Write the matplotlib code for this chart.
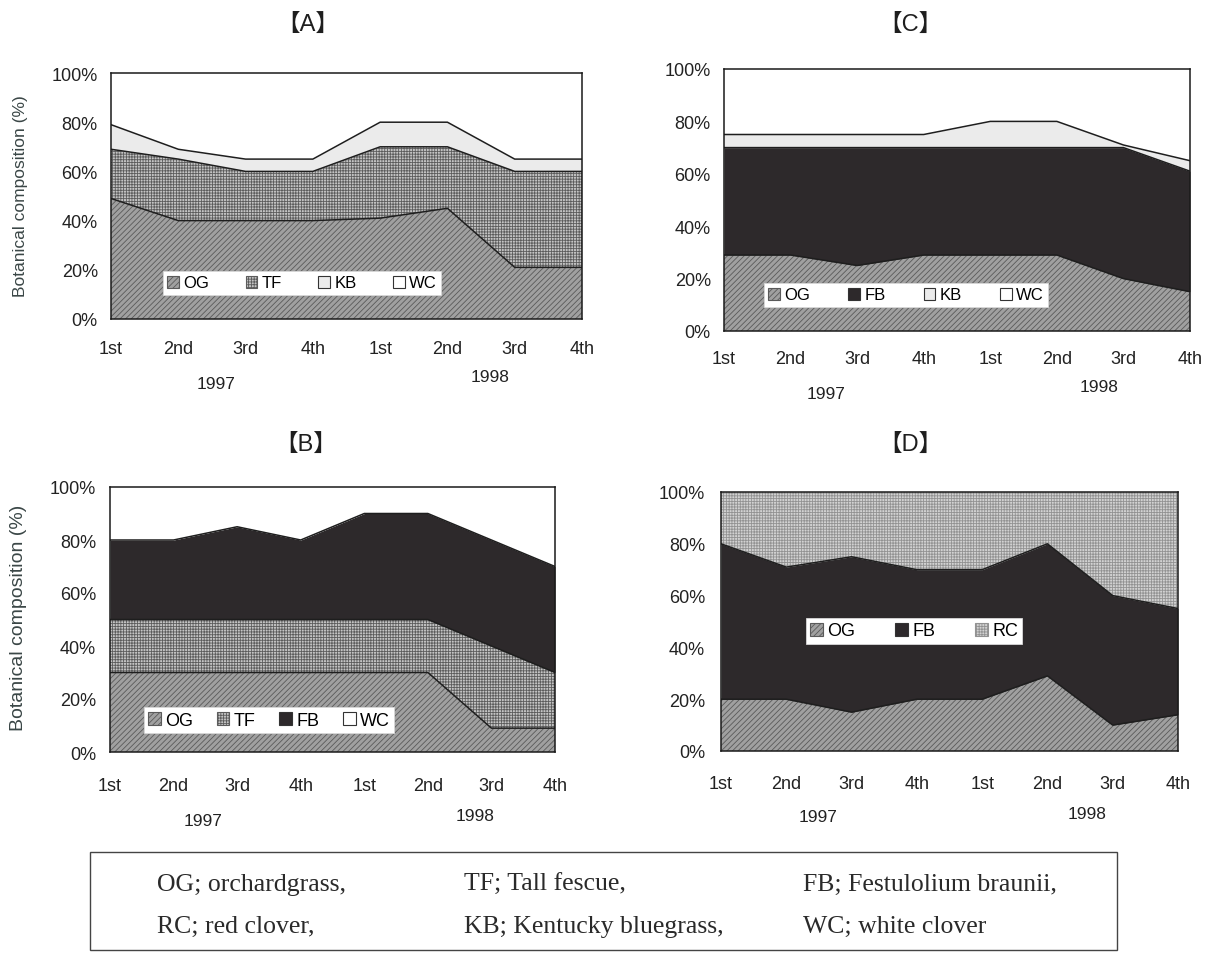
import numpy as np
import matplotlib
matplotlib.use("Agg")
import matplotlib.pyplot as plt
from matplotlib.patches import Patch, Rectangle

# ---------------- data ----------------
quarters = ["1st", "2nd", "3rd", "4th", "1st", "2nd", "3rd", "4th"]
years = ["1997", "1998"]

# Panel A
a_og = [49, 40, 40, 40, 41, 45, 21, 21]
a_tf = [20, 25, 20, 20, 29, 25, 39, 39]
a_kb = [10, 4, 5, 5, 10, 10, 5, 5]
a_wc = [21, 31, 35, 35, 20, 20, 35, 35]

# Panel B
b_og = [30, 30, 30, 30, 30, 30, 9, 9]
b_tf = [20, 20, 20, 20, 20, 20, 31, 21]
b_fb = [30, 30, 35, 30, 40, 40, 40, 40]
b_wc = [20, 20, 15, 20, 10, 10, 20, 30]

# Panel C
c_og = [29, 29, 25, 29, 29, 29, 20, 15]
c_fb = [41, 41, 45, 41, 41, 41, 50, 46]
c_kb = [5, 5, 5, 5, 10, 10, 1, 4]
c_wc = [25, 25, 25, 25, 20, 20, 29, 35]

# Panel D
d_og = [20, 20, 15, 20, 20, 29, 10, 14]
d_fb = [60, 51, 60, 50, 50, 51, 50, 41]
d_rc = [20, 29, 25, 30, 30, 20, 40, 45]

abbrev_lines = [
    ["OG; orchardgrass,", "TF; Tall fescue,", "FB; Festulolium braunii,"],
    ["RC; red clover,", "KB; Kentucky bluegrass,", "WC; white clover"],
]

# ---------------- styles ----------------
plt.rcParams['hatch.linewidth'] = 0.6
SANS = ['Liberation Sans', 'DejaVu Sans']
STY = {
    'OG': dict(fc='#a0a0a0', hatch='//////', hc='#5a5a5a'),
    'TF': dict(fc='#c4c4c4', hatch='++++++', hc='#5c5c5c'),
    'KB': dict(fc='#ebebeb', hatch=None, hc='#ebebeb'),
    'WC': dict(fc='#ffffff', hatch=None, hc='#ffffff'),
    'FB': dict(fc='#2d292b', hatch=None, hc='#2d292b'),
    'RC': dict(fc='#d2d2d2', hatch='++++++', hc='#929292'),
}

W, H = 1211, 954
fig = plt.figure(figsize=(W / 100, H / 100), dpi=100)
fig.patch.set_facecolor('white')


def fx(px):
    return px / W


def fy(py):
    return 1 - py / H


def panel(box, series, title, title_xy, year_xy, xpad, ypad, leg_center, leg_fs, colsp,
          ylabel=None):
    l, t, r, b = box
    ax = fig.add_axes([fx(l), fy(b), (r - l) / W, (b - t) / H])
    x = np.arange(len(quarters))
    bottom = np.zeros(len(quarters))
    tops = []
    handles = []
    for name, vals in series:
        s = STY[name]
        top = bottom + np.asarray(vals, dtype=float)
        ax.fill_between(x, bottom, top, facecolor=s['fc'], hatch=s['hatch'],
                        edgecolor=s['hc'], linewidth=0)
        tops.append(top)
        bottom = top
        handles.append(Patch(facecolor=s['fc'], hatch=s['hatch'],
                             edgecolor='#333333' if s['hatch'] is None else s['hc'],
                             linewidth=0.8, label=name))
    for top in tops[:-1]:
        ax.plot(x, top, color='#1e1e1e', lw=1.1)
    ax.set_xlim(0, len(quarters) - 1)
    ax.set_ylim(0, 100)
    ax.set_yticks(np.arange(0, 101, 20))
    ax.set_yticklabels([f"{v}%" for v in range(0, 101, 20)], fontsize=13, family=SANS,
                       color='#222222')
    ax.set_xticks(x)
    ax.set_xticklabels(quarters, fontsize=13, family=SANS, color='#222222')
    ax.tick_params(axis='x', length=0, pad=xpad)
    ax.tick_params(axis='y', length=0, pad=ypad)
    for sp in ax.spines.values():
        sp.set_linewidth(1.1)
        sp.set_color('#1a1a1a')
    leg = ax.legend(handles=handles, loc='center', ncol=len(handles),
                    bbox_to_anchor=(fx(leg_center[0]), fy(leg_center[1])),
                    bbox_transform=fig.transFigure, frameon=True, fancybox=False,
                    facecolor='white', edgecolor='#d8d8d8', framealpha=1,
                    handlelength=0.7, handleheight=0.7, handletextpad=0.25,
                    columnspacing=colsp, borderpad=0.25,
                    prop={'family': SANS, 'size': leg_fs})
    leg.get_frame().set_linewidth(0.6)
    fig.text(fx(title_xy[0]), fy(title_xy[1]), title, ha='center', va='center',
             fontsize=17, family=['Liberation Sans', 'Noto Sans CJK JP'], color='#1e1e1e')
    for yr, (px, py) in zip(years, year_xy):
        fig.text(fx(px), fy(py), yr, ha='center', va='center', fontsize=12.5,
                 family=SANS, color='#222222')
    if ylabel is not None:
        px, py, fs = ylabel
        fig.text(fx(px), fy(py), "Botanical composition (%)", rotation=90,
                 ha='center', va='center', fontsize=fs, family=SANS, color='#3a4646')
    return ax


panel((111, 74, 582, 320), [('OG', a_og), ('TF', a_tf), ('KB', a_kb), ('WC', a_wc)],
      "【A】", (308, 25), [(216, 385), (490, 378)], 15, 9.5, (302, 284), 12, 2.2,
      ylabel=(21, 196, 12.5))
panel((724, 70, 1190, 332), [('OG', c_og), ('FB', c_fb), ('KB', c_kb), ('WC', c_wc)],
      "【C】", (910, 25), [(826, 395), (1099, 388)], 14, 9.5, (906, 296), 12, 2.3)
panel((110, 488, 555, 753), [('OG', b_og), ('TF', b_tf), ('FB', b_fb), ('WC', b_wc)],
      "【B】", (306, 445), [(203, 822), (475, 817)], 18, 10, (269, 721), 13, 1.3,
      ylabel=(19, 618, 14))
panel((721, 493, 1178, 752), [('OG', d_og), ('FB', d_fb), ('RC', d_rc)],
      "【D】", (910, 445), [(818, 818), (1087, 815)], 17, 11.5, (914, 632), 13, 2.2)

# abbreviation box
fig.add_artist(Rectangle((fx(90), fy(951)), (1117 - 90) / W, (951 - 853) / H,
                         transform=fig.transFigure, fill=False,
                         edgecolor='#444444', linewidth=1.0))
col_x = [157, 464, 803]
row_y = [891, 933]
for r, row in enumerate(abbrev_lines):
    for c, txt in enumerate(row):
        fig.text(fx(col_x[c]), fy(row_y[r]), txt, ha='left', va='baseline',
                 fontsize=18.5, family=['Liberation Serif', 'DejaVu Serif'],
                 color='#2a2a2a')

fig.savefig('out.png', dpi=100, facecolor='white')
